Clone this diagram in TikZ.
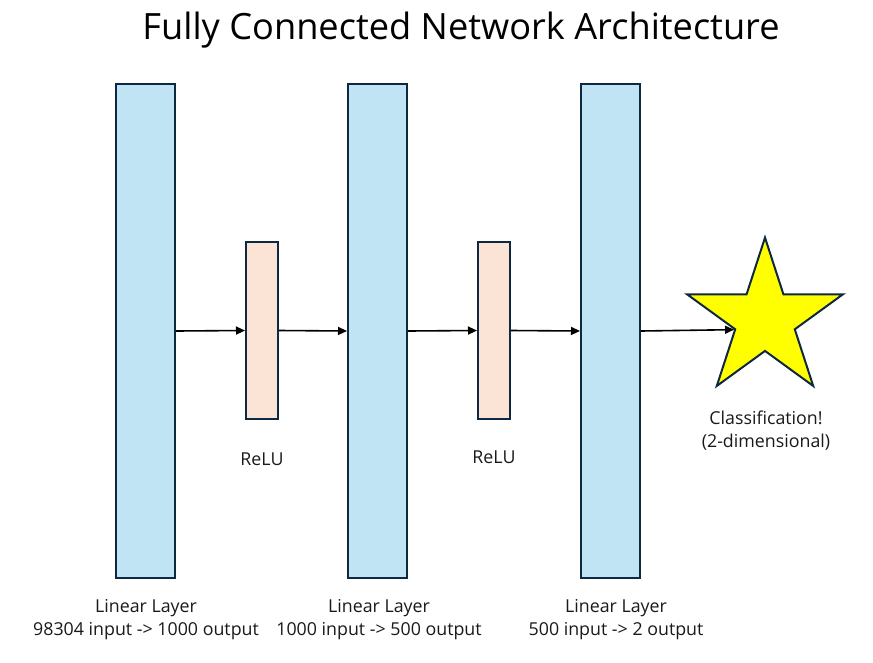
\documentclass[tikz,border=0pt]{standalone}
\usepackage{fontspec}
\setmainfont{Open Sans}
\usetikzlibrary{shapes.geometric,arrows.meta}
\definecolor{layerblue}{HTML}{C0E4F4}
\definecolor{relupeach}{HTML}{FBE3D6}
\definecolor{edgenavy}{HTML}{0E2841}
\definecolor{staryellow}{HTML}{FFFF00}
\tikzset{
  bigbox/.style={draw=edgenavy,fill=layerblue,line width=2pt,minimum width=59pt,minimum height=494pt,inner sep=0pt},
  smallbox/.style={draw=edgenavy,fill=relupeach,line width=2pt,minimum width=32pt,minimum height=177pt,inner sep=0pt},
  arr/.style={-{Triangle[length=9pt,width=8pt]},line width=1.6pt,black},
  lbl/.style={align=center,font=\fontsize{17.8}{23}\selectfont,text=black!90,inner sep=0pt},
}
\begin{document}
\begin{tikzpicture}[x=1pt,y=-1pt]
\useasboundingbox (0,0) rectangle (873,662);
\node[font=\fontsize{36.2}{42}\selectfont,inner sep=0pt] (title) at (461,30) {Fully Connected Network Architecture};
\node[bigbox] (L1) at (145.5,331) {};
\node[smallbox] (R1) at (262,330.5) {};
\node[bigbox] (L2) at (377.5,331) {};
\node[smallbox] (R2) at (494,330.5) {};
\node[bigbox] (L3) at (610.5,331) {};
\node[star,star points=5,star point ratio=2.618,minimum size=164pt,inner sep=0pt,draw=edgenavy,fill=staryellow,line width=2pt] (star) at (765,319.6) {};
\draw[arr] (L1.east) -- (R1.west);
\draw[arr] (R1.east) -- (L2.west);
\draw[arr] (L2.east) -- (R2.west);
\draw[arr] (R2.east) -- (L3.west);
\draw[arr] (L3.east) -- (star.inner point 2);
\node[lbl] (t1) at (262,459) {ReLU};
\node[lbl] (t2) at (494,457) {ReLU};
\node[lbl] (t3) at (146,619.5) {Linear Layer\\98304 input -> 1000 output};
\node[lbl] (t4) at (379,619.5) {Linear Layer\\1000 input -> 500 output};
\node[lbl] (t5) at (616,619.5) {Linear Layer\\500 input -> 2 output};
\node[lbl] (t6) at (766,431) {Classification!\\(2-dimensional)};
\end{tikzpicture}
\end{document}
